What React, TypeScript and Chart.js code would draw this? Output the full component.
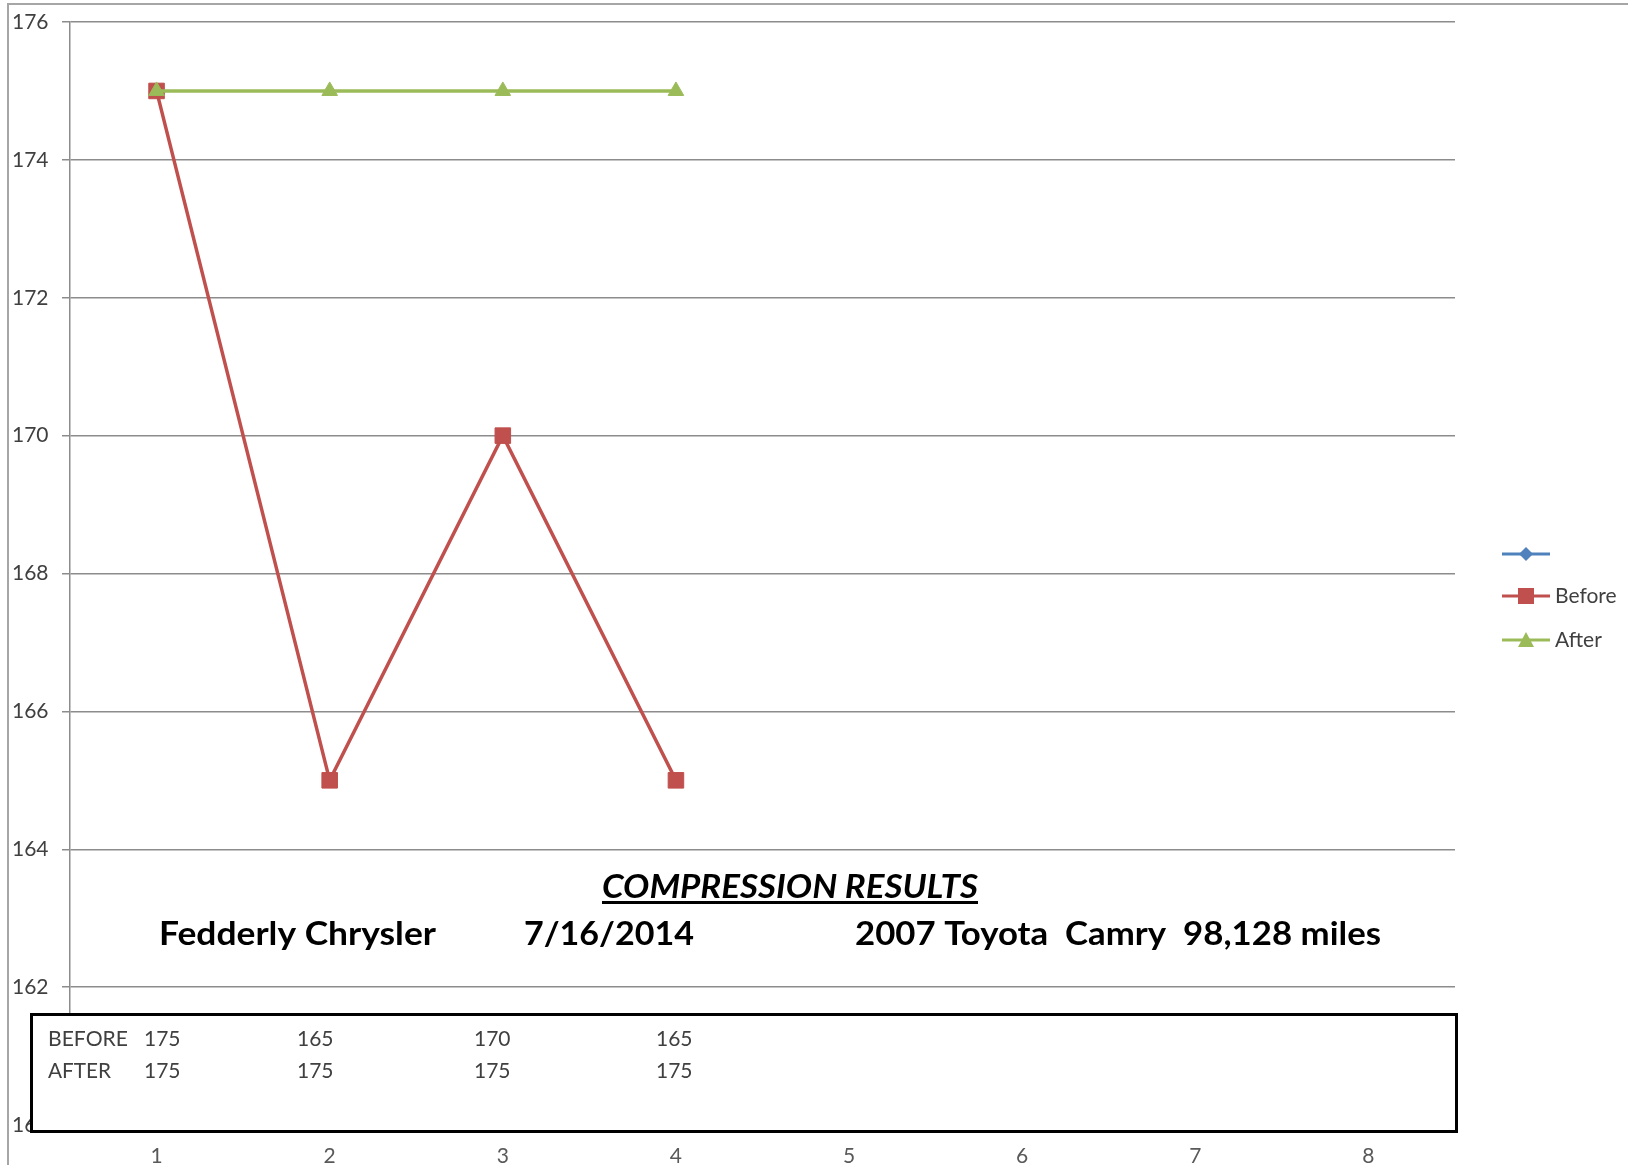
import React, { useEffect, useRef } from "react";
import { Chart, registerables } from "chart.js";

Chart.register(...registerables);

const categories = ["1", "2", "3", "4", "5", "6", "7", "8"];
const beforeValues = [175, 165, 170, 165];
const afterValues = [175, 175, 175, 175];
const blankValues: (number | null)[] = [];
const seriesNames = ["", "Before", "After"];
const yMin = 160;
const yMax = 176;
const yStep = 2;
const titleText = "COMPRESSION RESULTS";
const subtitleParts = ["Fedderly Chrysler", "7/16/2014", "2007 Toyota  Camry  98,128 miles"];
const tableRowLabels = ["BEFORE", "AFTER"];

const BLUE = "#4F81BD";
const RED = "#C0504D";
const GREEN = "#9BBB59";
const FONT = "Lato, 'Open Sans', sans-serif";

function fitText(ctx: CanvasRenderingContext2D, text: string, x: number, y: number, w: number) {
  const m = ctx.measureText(text).width;
  ctx.save();
  ctx.translate(x, y);
  ctx.scale(w / m, 1);
  ctx.textAlign = "left";
  ctx.textBaseline = "middle";
  ctx.fillText(text, 0, 0);
  ctx.restore();
}

const decorPlugin = {
  id: "decor",
  beforeDraw(chart: any) {
    const ctx: CanvasRenderingContext2D = chart.ctx;
    ctx.save();
    ctx.strokeStyle = "#a6a6a6";
    ctx.lineWidth = 2;
    ctx.beginPath();
    ctx.moveTo(8, 1165);
    ctx.lineTo(8, 4);
    ctx.lineTo(1628, 4);
    ctx.stroke();
    ctx.restore();
  },
  afterDraw(chart: any) {
    const ctx: CanvasRenderingContext2D = chart.ctx;
    ctx.save();
    // Title
    ctx.fillStyle = "#000";
    ctx.font = `italic bold 33px ${FONT}`;
    fitText(ctx, titleText, 602, 887, 376);
    ctx.fillRect(602, 901, 376, 3);
    ctx.font = `bold 33px ${FONT}`;
    fitText(ctx, subtitleParts[0], 159, 934, 277);
    fitText(ctx, subtitleParts[1], 524, 934, 170);
    fitText(ctx, subtitleParts[2], 855, 934, 526);

    // Data table box
    ctx.fillStyle = "#fff";
    ctx.fillRect(30, 1013, 1428, 120);
    ctx.strokeStyle = "#000";
    ctx.lineWidth = 3;
    ctx.strokeRect(31.5, 1014.5, 1425, 117);
    ctx.fillStyle = "#404040";
    ctx.font = `21px ${FONT}`;
    ctx.textAlign = "left";
    ctx.textBaseline = "middle";
    const valX = [144, 297, 474, 656];
    const rows = [beforeValues, afterValues];
    const rowY = [1039, 1071];
    const labelW = [80, 63];
    rows.forEach((vals, r) => {
      fitText(ctx, tableRowLabels[r], 48, rowY[r], labelW[r]);
      vals.forEach((v, i) => ctx.fillText(String(v), valX[i], rowY[r]));
    });

    // Legend
    const legendY = [554, 596, 640];
    const colors = [BLUE, RED, GREEN];
    const styles = ["diamond", "rect", "triangle"];
    legendY.forEach((y, i) => {
      ctx.strokeStyle = colors[i];
      ctx.fillStyle = colors[i];
      ctx.lineWidth = 3;
      ctx.beginPath();
      ctx.moveTo(1502, y);
      ctx.lineTo(1550, y);
      ctx.stroke();
      const cx = 1526;
      ctx.beginPath();
      if (styles[i] === "diamond") {
        ctx.moveTo(cx, y - 7);
        ctx.lineTo(cx + 7, y);
        ctx.lineTo(cx, y + 7);
        ctx.lineTo(cx - 7, y);
      } else if (styles[i] === "rect") {
        ctx.rect(cx - 8, y - 8, 16, 16);
      } else {
        ctx.moveTo(cx, y - 8);
        ctx.lineTo(cx + 8, y + 7);
        ctx.lineTo(cx - 8, y + 7);
      }
      ctx.closePath();
      ctx.fill();
      ctx.fillStyle = "#404040";
      ctx.font = `21px ${FONT}`;
      ctx.textAlign = "left";
      ctx.textBaseline = "middle";
      if (seriesNames[i]) ctx.fillText(seriesNames[i], 1555, y);
    });
    ctx.restore();
  },
};

export default function App() {
  const ref = useRef<HTMLCanvasElement>(null);
  useEffect(() => {
    if (!ref.current) return;
    const chart = new Chart(ref.current, {
      type: "line",
      data: {
        labels: categories,
        datasets: [
          {
            label: seriesNames[0],
            data: blankValues,
            borderColor: BLUE,
            backgroundColor: BLUE,
            pointStyle: "rectRot",
            order: 2,
          },
          {
            label: seriesNames[1],
            data: beforeValues,
            borderColor: RED,
            backgroundColor: RED,
            borderWidth: 3.5,
            pointStyle: "rect",
            pointRadius: 11,
            pointBorderWidth: 1,
            order: 1,
          },
          {
            label: seriesNames[2],
            data: afterValues,
            borderColor: GREEN,
            backgroundColor: GREEN,
            borderWidth: 3.5,
            pointStyle: "triangle",
            pointRadius: 9,
            pointBorderWidth: 1,
            order: 0,
          },
        ],
      },
      options: {
        animation: false,
        responsive: false,
        layout: { padding: { left: 12, top: 22, right: 173, bottom: 0 } },
        plugins: { legend: { display: false }, tooltip: { enabled: false }, title: { display: false } },
        scales: {
          x: {
            offset: true,
            grid: { display: false, drawTicks: false },
            border: { display: false },
            ticks: { color: "#595959", font: { family: FONT, size: 21 }, padding: 19, maxRotation: 0 },
            afterFit: (s: any) => {
              s.height = 40;
            },
          },
          y: {
            min: yMin,
            max: yMax,
            ticks: {
              stepSize: yStep,
              color: "#404040",
              font: { family: FONT, size: 21 },
              crossAlign: "far",
            },
            grid: { color: "#8c8c8c", lineWidth: 1.5, tickLength: 8 },
            border: { color: "#8c8c8c", width: 1.5 },
            afterFit: (s: any) => {
              s.width = 58;
            },
          },
        },
      },
      plugins: [decorPlugin],
    });
    return () => chart.destroy();
  }, []);
  return (
    <div style={{ position: "fixed", left: 0, top: 0, width: 1628, height: 1165, background: "#fff" }}>
      <canvas ref={ref} width={1628} height={1165} style={{ display: "block" }} />
    </div>
  );
}
